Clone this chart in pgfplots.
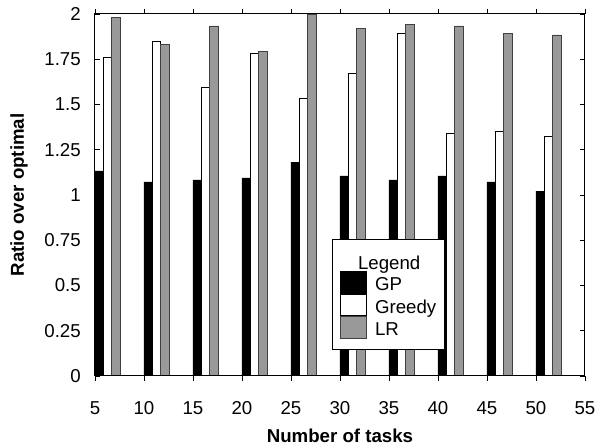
\documentclass[border=0pt]{standalone}
\usepackage{fontspec}
\setmainfont{Liberation Sans}
\usepackage{pgfplots}
\pgfplotsset{compat=1.18}
\definecolor{lrgray}{RGB}{153,153,153}
\begin{document}
\begin{tikzpicture}
\begin{axis}[
  scale only axis,
  width=367.5pt, height=271.5pt,
  xmin=5, xmax=55, ymin=0, ymax=2,
  axis on top,
  xtick={5,10,...,55},
  ytick={0,0.25,0.5,0.75,1,1.25,1.5,1.75,2},
  yticklabels={0,0.25,0.5,0.75,1,1.25,1.5,1.75,2},
  tick align=inside,
  major tick length=3.75pt,
  tick style={black, line width=0.6pt},
  axis line style={line width=0.75pt},
  /pgf/number format/assume math mode=true,
  ticklabel style={font=\fontsize{14}{16}\selectfont, inner sep=0pt},
  yticklabel style={anchor=east, xshift=-10.5pt},
  xticklabel style={anchor=base, yshift=-25pt},
  xlabel={Number of tasks},
  ylabel={Ratio over optimal},
  every axis x label/.style={at={(axis description cs:0.5,-0.1835)}, anchor=base, inner sep=0pt, font=\fontsize{14}{16}\selectfont\bfseries},
  every axis y label/.style={at={(axis description cs:-0.1735,0.5)}, rotate=90, anchor=north, inner sep=0pt, font=\fontsize{14}{16}\selectfont\bfseries},
  ybar, bar width=0.85,
  legend cell align=left,
  legend style={at={(0.4837,0.0718)}, anchor=south west, draw=black, line width=0.6pt, fill=white,
    font=\fontsize{14}{16}\selectfont, row sep=0pt, column sep=6.5pt,
    inner xsep=6pt, inner ysep=8.5pt,
    nodes={inner sep=0pt}},
  legend image code/.code={\draw[#1, line width=0.5pt] (0pt,-8.125pt) rectangle (19pt,8.125pt);},
]
\addlegendimage{empty legend}
\addlegendentry{\hspace*{-12.75pt}\rule[-3.3pt]{0pt}{17.5pt}Legend}
\addplot[fill=black, draw=black, line width=0.5pt, bar shift=0.425] coordinates {
(5,1.133) (10,1.072) (15,1.083) (20,1.094) (25,1.182) (30,1.105) (35,1.083) (40,1.105) (45,1.072) (50,1.022)};
\addlegendentry{\rule[-2.375pt]{0pt}{16.25pt}GP}
\addplot[fill=white, draw=black, line width=0.5pt, bar shift=1.275] coordinates {
(5,1.761) (10,1.851) (15,1.593) (20,1.785) (25,1.532) (30,1.672) (35,1.893) (40,1.343) (45,1.352) (50,1.324)};
\addlegendentry{\rule[-2.375pt]{0pt}{16.25pt}Greedy}
\addplot[fill=lrgray, draw=black!75, line width=0.5pt, bar shift=2.125] coordinates {
(5,1.981) (10,1.833) (15,1.934) (20,1.792) (25,1.996) (30,1.920) (35,1.942) (40,1.934) (45,1.893) (50,1.884)};
\addlegendentry{\rule[-2.375pt]{0pt}{16.25pt}LR}
\end{axis}
\pgfresetboundingbox
\path (current axis.south west) ++(-71.25pt,-51.75pt) coordinate (bbA);
\path (current axis.north east) ++(12.75pt,10.5pt) coordinate (bbB);
\useasboundingbox (bbA) rectangle (bbB);
\end{tikzpicture}
\end{document}
